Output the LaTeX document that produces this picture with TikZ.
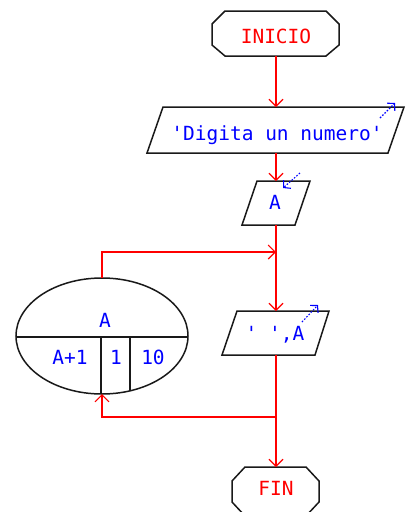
\documentclass[tikz,border=0pt]{standalone}
\usepackage{fontspec}
\newfontfamily\pixfont{DejaVu Sans Mono}
\usetikzlibrary{arrows.meta}
\begin{document}
\begin{tikzpicture}[x=1pt,y=-1pt,
  outline/.style={draw=black!90, line width=1.5pt, line join=miter},
  flow/.style={draw=red, line width=1.1pt},
  arr/.style={flow, -{Straight Barb[length=7pt,width=14pt]}},
  io/.style={draw=blue, line width=1.1pt, dash pattern=on 1.6pt off 1.6pt, -{Straight Barb[length=5pt,width=11pt]}},
  redtxt/.style={text=red, font=\pixfont\fontsize{19.5}{19.5}\selectfont, inner sep=0pt, anchor=base},
  bluetxt/.style={text=blue, font=\pixfont\fontsize{19.5}{19.5}\selectfont, inner sep=0pt, anchor=base}]
\useasboundingbox (0,0) rectangle (406,512);
% INICIO
\draw[outline] (225,11)--(326,11)--(339,24)--(339,45)--(326,56)--(225,56)--(212,45)--(212,24)--cycle;
\node[redtxt] (inicio) at (276,43) {INICIO};
\coordinate (inicioS) at (276,56);
% Digita
\draw[outline] (163,107)--(404,107)--(388,153)--(147,153)--cycle;
\node[bluetxt] (digita) at (277,140) {'Digita un numero'};
\coordinate (digN) at (276,107);
\coordinate (digS) at (276,153);
\coordinate (digI1) at (380,118);
\coordinate (digI2) at (395,103);
\draw[io] (digI1) -- (digI2);
% A input
\draw[outline] (257,181)--(310,181)--(295,225)--(242,225)--cycle;
\node[bluetxt] (ain) at (275,209) {A};
\coordinate (aN) at (276,181);
\coordinate (aS) at (276,225);
\coordinate (aI1) at (300,173);
\coordinate (aI2) at (283,188);
\draw[io] (aI1) -- (aI2);
% junctions
\coordinate (j1) at (276,252);
\coordinate (j2) at (276,417);
% ' ',A output
\draw[outline] (237,311)--(329,311)--(315,355)--(222,355)--cycle;
\node[bluetxt] (aout) at (275,340) {' ',A};
\coordinate (pN) at (276,311);
\coordinate (pS) at (276,355);
\coordinate (pI1) at (302,322);
\coordinate (pI2) at (318,305);
\draw[io] (pI1) -- (pI2);
% FIN
\draw[outline] (245,467)--(306,467)--(319,481)--(319,502)--(306,516)--(245,516)--(232,502)--(232,481)--cycle;
\node[redtxt] (fin) at (276,495) {FIN};
\coordinate (finN) at (276,467);
% loop ellipse
\draw[outline] (102,336) ellipse [x radius=86pt, y radius=58pt];
\draw[outline] (16,337) -- (188,337);
\draw[outline] (101,337) -- (101,394);
\draw[outline] (130,337) -- (130,391);
\node[bluetxt] (lvar) at (105,327) {A};
\node[bluetxt] (lstep) at (70,364) {A+1};
\node[bluetxt] (lini) at (116,364) {1};
\node[bluetxt] (lend) at (153,364) {10};
\coordinate (ellN) at (102,278);
\coordinate (ellS) at (102,394);
% connectors
\draw[arr] (inicioS) -- (digN);
\draw[arr] (digS) -- (aN);
\draw[arr] (aS) -- (pN);
\draw[arr] (ellN) |- (j1);
\draw[arr] (pS) -- (finN);
\draw[arr] (j2) -| (ellS);
\end{tikzpicture}
\end{document}
